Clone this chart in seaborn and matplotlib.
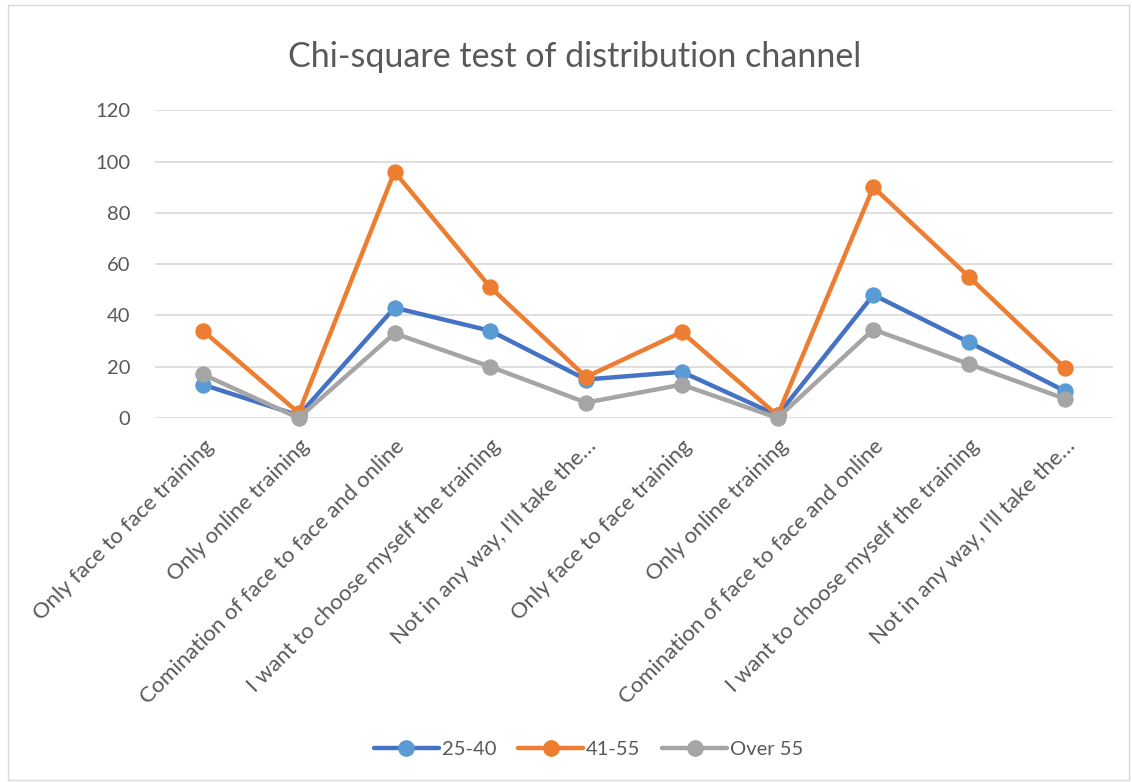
import matplotlib
matplotlib.use("Agg")
import matplotlib.pyplot as plt
import seaborn as sns
import pandas as pd
from matplotlib.lines import Line2D
from matplotlib.patches import Rectangle

categories = [
    "Only face to face training",
    "Only online training",
    "Comination of face to face and online",
    "I want to choose myself the training",
    "Not in any way, I'll take the\u2026",
    "Only face to face training",
    "Only online training",
    "Comination of face to face and online",
    "I want to choose myself the training",
    "Not in any way, I'll take the\u2026",
]
age_25_40 = [13, 1, 43, 34, 15, 18, 1, 48, 29.5, 10.5]
age_41_55 = [34, 2, 96, 51, 16, 33.5, 1, 90, 55, 19.5]
over_55 = [17, 0, 33, 20, 6, 13, 0, 34.5, 21, 7.5]
series_names = ["25-40", "41-55", "Over 55"]
line_colors = ["#4472C4", "#ED7D31", "#A5A5A5"]
marker_colors = ["#5B9BD5", "#ED7D31", "#A5A5A5"]
yticks = [0, 20, 40, 60, 80, 100, 120]

sns.set_theme(style="white")
plt.rcParams["font.family"] = ["Lato", "DejaVu Sans"]

rows = []
for name, vals in zip(series_names, [age_25_40, age_41_55, over_55]):
    for i, v in enumerate(vals):
        rows.append({"idx": i, "value": v, "series": name})
df = pd.DataFrame(rows)

fig = plt.figure(figsize=(11.32, 7.82), dpi=100)
ax = fig.add_axes([0.137, 0.4655, 0.846, 0.3935])

for name, lc, mc in zip(series_names, line_colors, marker_colors):
    sub = df[df["series"] == name]
    sns.lineplot(data=sub, x="idx", y="value", ax=ax, color=lc, linewidth=3.2,
                 marker="o", markersize=11, markerfacecolor=mc,
                 markeredgecolor=mc, legend=False, zorder=3)
for ln in ax.get_lines():
    ln.set_clip_on(False)

ax.set_xlim(-0.5, len(categories) - 0.5)
ax.set_ylim(0, 120)
ax.set_yticks(yticks)
ax.set_yticklabels([str(t) for t in yticks], fontsize=14.5, color="#595959")
ax.set_xticks(range(len(categories)))
ax.set_xticklabels(categories, rotation=45, ha="right", va="top",
                   rotation_mode="anchor", fontsize=15.9, color="#595959")
ax.tick_params(axis="x", length=0, pad=13)
ax.tick_params(axis="y", length=0, pad=18)
ax.set_xlabel("")
ax.set_ylabel("")
ax.yaxis.grid(True, color="#D9D9D9", linewidth=1.2)
ax.set_axisbelow(True)
for s in ax.spines.values():
    s.set_visible(False)

fig.text(0.508, 0.927, "Chi-square test of distribution channel", ha="center",
         va="center", fontsize=24.5, color="#595959")

handles = [Line2D([0], [0], color=lc, linewidth=3.2, marker="o", markersize=11,
                  markerfacecolor=mc, markeredgecolor=mc)
           for lc, mc in zip(line_colors, marker_colors)]
fig.legend(handles, series_names, loc="center", bbox_to_anchor=(0.52, 0.041),
           ncol=3, frameon=False, fontsize=14.5, handlelength=3.2,
           columnspacing=1.1, handletextpad=0.15, labelcolor="#595959")

fig.patches.append(Rectangle((0.007, 0.003), 0.99, 0.99, transform=fig.transFigure,
                             fill=False, edgecolor="#D9D9D9", linewidth=1))

fig.savefig("out.png", dpi=100)
